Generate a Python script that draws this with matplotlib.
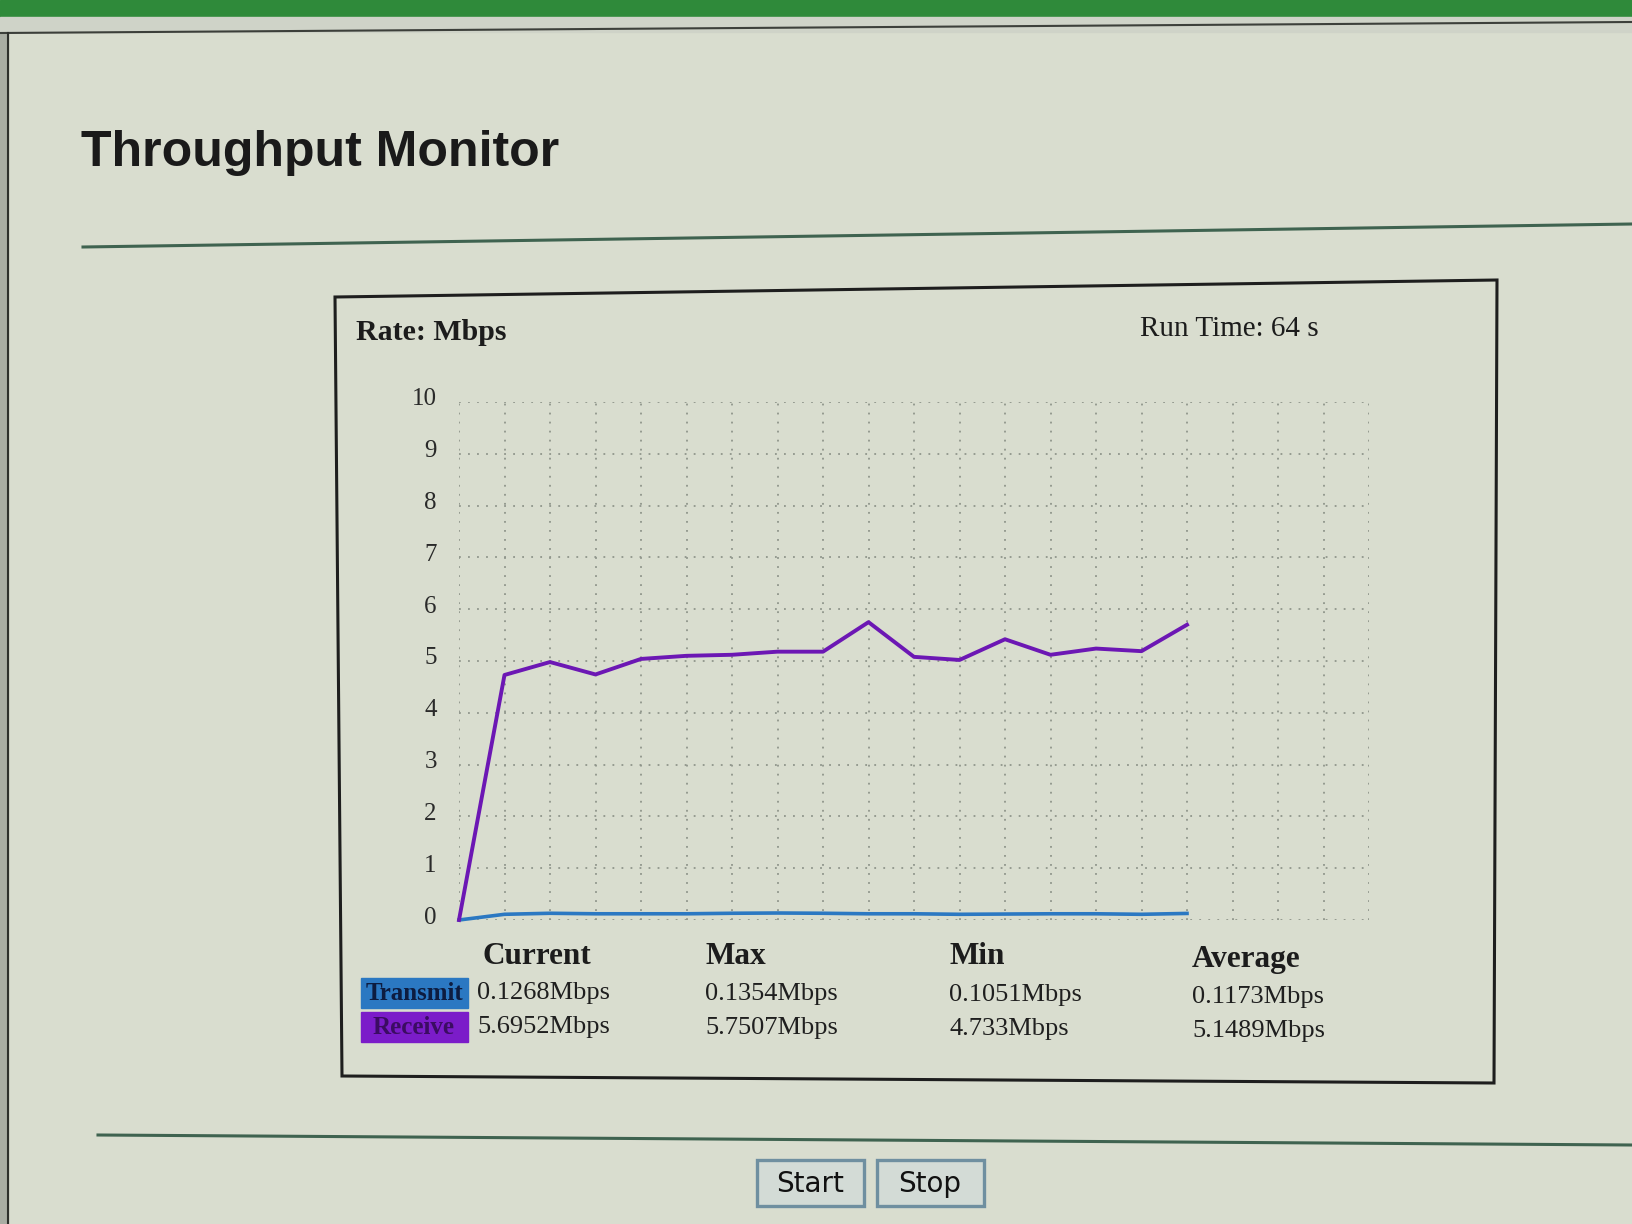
import matplotlib
matplotlib.use('Agg')
import matplotlib.pyplot as plt
from matplotlib.patches import Rectangle, Polygon
import matplotlib.transforms as mtransforms

# данные графика (время в секундах, скорость в Мбит/с)
time_s = [0, 4, 8, 12, 16, 20, 24, 28, 32, 36, 40, 44, 48, 52, 56, 60, 64]
receive = [0.0, 4.73, 4.98, 4.74, 5.04, 5.10, 5.12, 5.18, 5.18, 5.75, 5.08, 5.02, 5.42, 5.12, 5.24, 5.19, 5.70]
transmit = [0.0, 0.11, 0.13, 0.12, 0.12, 0.12, 0.13, 0.135, 0.13, 0.12, 0.12, 0.11, 0.115, 0.12, 0.12, 0.11, 0.127]
y_ticks = [0, 1, 2, 3, 4, 5, 6, 7, 8, 9, 10]

# таблица статистики
stat_headers = ['Current', 'Max', 'Min', 'Average']
row_names = ['Transmit', 'Receive']
stat_values = [['0.1268Mbps', '0.1354Mbps', '0.1051Mbps', '0.1173Mbps'],
               ['5.6952Mbps', '5.7507Mbps', '4.733Mbps', '5.1489Mbps']]

W, H = 1632, 1224
bg = '#d9ddcf'
c_tx = '#2b78c2'
c_rx = '#6c17b4'
serif = 'Liberation Serif'

fig = plt.figure(figsize=(W / 100, H / 100), dpi=100, facecolor=bg)

# фон страницы в пикселях
page = fig.add_axes([0, 0, 1, 1])
page.set_xlim(0, W)
page.set_ylim(H, 0)
page.axis('off')
page.set_facecolor(bg)

page.add_patch(Rectangle((0, 0), W, 17, color='#2f8a3a', zorder=1))
page.add_patch(Rectangle((0, 17), W, 15, color='#cfd3c8', zorder=1))
page.plot([0, W], [33, 22], color='#3c3f3a', lw=1.5)
page.add_patch(Rectangle((0, 33), 8, H, color='#a9ada3', zorder=1))
page.plot([8, 8], [33, H], color='#2e302c', lw=1.5)

page.text(81, 153, 'Throughput Monitor', fontsize=36, fontweight='bold',
          family='Liberation Sans', color='#1a1a1a', va='center', ha='left')
page.plot([83, W], [247, 224], color='#3f6350', lw=2.2)
page.plot([98, W], [1135, 1145], color='#3f6350', lw=2.2)

# рамка графика
page.add_patch(Polygon([(335, 297), (1497, 280), (1494, 1083), (342, 1076)],
                       closed=True, fill=False, edgecolor='#1e1e1e', lw=2.2))

page.text(356, 333, 'Rate: Mbps', fontsize=21.5, fontweight='bold', family=serif,
          color='#1c1c1c', va='center', ha='left')
page.text(1140, 329, 'Run Time: 64 s', fontsize=21, family=serif,
          color='#1c1c1c', va='center', ha='left')

# таблица под графиком
col_x = [482, 705, 949, 1192]
head_y = [956, 956, 957, 959]
for x, y, h in zip(col_x, head_y, stat_headers):
    page.text(x, y, h, fontsize=22.5, fontweight='bold', family=serif,
              color='#1c1c1c', va='center', ha='left')
row_y = [993, 1027]
row_col = [c_tx, '#7b1cc9']
row_txt = ['#0d1c40', '#3b0c62']
vx = [477, 705, 949, 1192]
for i in range(2):
    page.add_patch(Rectangle((361, row_y[i] - 15), 107, 30, color=row_col[i], zorder=2))
    page.text(414, row_y[i], row_names[i], fontsize=18, fontweight='bold', family=serif,
              color=row_txt[i], va='center', ha='center', zorder=3)
    for j in range(4):
        page.text(vx[j], row_y[i] + j * 1.2, stat_values[i][j], fontsize=19, family=serif,
                  color='#1f1f1f', va='center', ha='left')

# кнопки
for x0, lab in [(757, 'Start'), (877, 'Stop')]:
    page.add_patch(Rectangle((x0, 1160), 107, 46, facecolor='#d3dbd6',
                             edgecolor='#6f8fa0', lw=2.4, zorder=2))
    page.text(x0 + 53, 1184, lab, fontsize=20, family='DejaVu Sans',
              color='#111111', va='center', ha='center', zorder=3)

# сам график
ax = fig.add_axes([459 / W, (H - 920) / H, (1369 - 459) / W, (920 - 402) / H])
ax.set_facecolor('none')
ax.set_xlim(0, 80)
ax.set_ylim(0, 10)
for s in ax.spines.values():
    s.set_visible(False)
ax.set_xticks(range(0, 81, 4))
ax.set_yticks(y_ticks)
ax.set_xticklabels([])
ax.set_yticklabels([str(v) for v in y_ticks], family=serif, fontsize=18, color='#2a2a2a')
ax.tick_params(length=0, pad=16)
# подписи чуть выше линий сетки, как на экране
shift = mtransforms.ScaledTranslation(0, 5 / 100, fig.dpi_scale_trans)
for lbl in ax.get_yticklabels():
    lbl.set_transform(lbl.get_transform() + shift)
ax.grid(True, color='#8f958b', linestyle=(0, (1, 4)), lw=1.3)
ax.plot(time_s, transmit, color=c_tx, lw=2.6, clip_on=False, zorder=3)
ax.plot(time_s, receive, color=c_rx, lw=2.8, clip_on=False, zorder=4)

plt.savefig('out.png', dpi=100, facecolor=bg)
